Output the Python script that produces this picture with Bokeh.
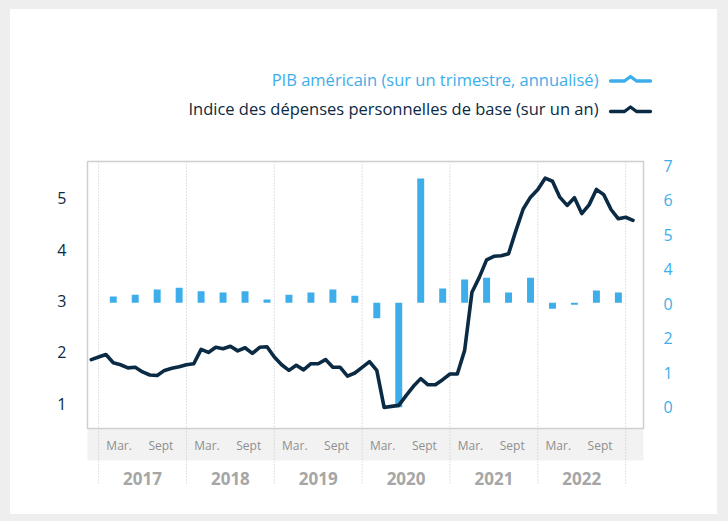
from bokeh.plotting import figure
from bokeh.models import Range1d, LinearAxis, FixedTicker, GlobalInlineStyleSheet
from bokeh.core.properties import value
from bokeh.embed import file_html
from bokeh.resources import INLINE

# ---- data ----
# monthly core PCE index (y/y, %), month 0 = Dec 2016 ... month 74 = Feb 2023
pce_core = [1.86, 1.91, 1.96, 1.80, 1.76, 1.70, 1.71, 1.62, 1.56, 1.55,
            1.65, 1.69, 1.72, 1.76, 1.78, 2.06, 2.00, 2.10, 2.07, 2.12,
            2.03, 2.09, 1.98, 2.10, 2.11, 1.91, 1.76, 1.65, 1.75, 1.66,
            1.78, 1.78, 1.86, 1.71, 1.71, 1.54, 1.60, 1.71, 1.82, 1.65,
            0.93, 0.95, 0.97, 1.16, 1.34, 1.49, 1.37, 1.37, 1.47, 1.58,
            1.58, 2.04, 3.17, 3.46, 3.80, 3.87, 3.88, 3.92, 4.37, 4.79,
            5.02, 5.17, 5.39, 5.33, 5.02, 4.86, 5.01, 4.70, 4.87, 5.17,
            5.07, 4.78, 4.60, 4.63, 4.57]
months = list(range(len(pce_core)))

# quarterly US GDP (annualised q/q, %), Q1 2017 ... Q4 2022, plotted at quarter-end month
gdp_q = [1.7, 2.2, 3.6, 4.1, 3.1, 2.8, 3.1, 0.9, 2.2, 2.8, 3.6, 1.9,
         -4.2, -28.2, 33.6, 3.9, 6.3, 6.8, 2.8, 6.8, -1.6, -0.5, 3.3, 2.8]
quarter_months = [3 + 3 * i for i in range(len(gdp_q))]

years = ["2017", "2018", "2019", "2020", "2021", "2022"]
year_start = [1 + 12 * i for i in range(len(years))]   # January of each year
month_labels = ["Mar.", "Sept"]
month_label_offsets = [2.8, 8.5]

left_ticks = [1, 2, 3, 4, 5]
right_ticks = [0, 1, 2, 3, 4, 5, 6, 7]
right_labels = {0: "0", 1: "1", 2: "2", 3: "0", 4: "4", 5: "5", 6: "6", 7: "7"}

legend_texts = ["PIB américain (sur un trimestre, annualisé)",
                "Indice des dépenses personnelles de base (sur un an)"]

BLUE = "#3DAEEA"
NAVY = "#0B2A44"
FONT = "Open Sans"

p = figure(width=707, height=505, output_backend="svg", toolbar_location=None,
           x_range=Range1d(-1.066, 76.80), y_range=Range1d(-0.842, 7.776),
           x_axis_location=None,
           min_border_left=73, min_border_right=64, min_border_top=46, min_border_bottom=16)
p.margin = (9, 0, 0, 10)
p.styles = {"background-color": "white"}
p.extra_y_ranges = {"right": Range1d(-2.646, 10.194),
                    "gdp": Range1d(-52.89, 66.84),
                    "px": Range1d(498, 55)}
p.extra_x_ranges = {"px": Range1d(83, 653)}
p.grid.visible = False
p.outline_line_color = None
p.background_fill_color = "white"
p.border_fill_color = "white"
p.stylesheets = [GlobalInlineStyleSheet(css="html, body { background: #eeeeee; margin: 0; padding: 0; }")]

# left axis
ya = p.yaxis[0]
ya.ticker = FixedTicker(ticks=left_ticks)
ya.axis_line_color = None
ya.major_tick_line_color = None
ya.minor_tick_line_color = None
ya.major_label_text_font = FONT
ya.major_label_text_font_size = "16px"
ya.major_label_text_color = NAVY
ya.major_label_standoff = 11

# right axis
ra = LinearAxis(y_range_name="right", ticker=FixedTicker(ticks=right_ticks),
                major_label_overrides=right_labels)
ra.axis_line_color = None
ra.major_tick_line_color = None
ra.minor_tick_line_color = None
ra.major_label_text_font = FONT
ra.major_label_text_font_size = "16px"
ra.major_label_text_color = BLUE
ra.major_label_standoff = 4
p.add_layout(ra, "right")

# grey band under the plot area for month labels
p.quad(left=87, right=643, top=428, bottom=460, x_range_name="px", y_range_name="px",
       fill_color="#f2f2f2", line_color=None)

# dotted year dividers
p.segment(x0=year_start + [year_start[-1] + 12], y0=161,
          x1=year_start + [year_start[-1] + 12], y1=483,
          y_range_name="px", line_color="#c4c4c4", line_width=1, line_dash="1 2")

# frame border
p.quad(left=87, right=643, top=161, bottom=428, x_range_name="px", y_range_name="px",
       fill_color=None, line_color="#cfcfcf", line_width=1.5)

# bars (GDP)
p.vbar(x=quarter_months, top=gdp_q, bottom=0, width=0.95, y_range_name="gdp",
       fill_color=BLUE, line_color=None)

# line (core PCE)
p.line(months, pce_core, line_color=NAVY, line_width=3.6, line_join="round", line_cap="round")

# month labels
mx, mt = [], []
for ys in year_start:
    for lab, off in zip(month_labels, month_label_offsets):
        mx.append(ys + off)
        mt.append(lab)
p.text(x=mx, y=[444.5] * len(mx), text=mt, y_range_name="px",
       text_align="center", text_baseline="middle", text_font=value(FONT),
       text_font_size="12px", text_color="#8f8f8f")

# year labels
p.text(x=[ys + 6 for ys in year_start], y=[478] * len(years), text=years, y_range_name="px",
       text_align="center", text_baseline="middle", text_font=value(FONT),
       text_font_size="17px", text_font_style="bold", text_color="#a6a6a6")

# legend
p.text(x=[598, 598], y=[78.5, 107.5], text=legend_texts, x_range_name="px", y_range_name="px",
       text_align="right", text_baseline="middle", text_font=value(FONT),
       text_font_size="16.5px", text_color=[BLUE, NAVY])
for yy, col in [(80.5, BLUE), (111, NAVY)]:
    p.line(x=[610, 624, 630, 636, 650], y=[yy, yy, yy - 4.5, yy, yy],
           x_range_name="px", y_range_name="px", line_color=col, line_width=3.3,
           line_join="round", line_cap="round")

open("out.html", "w").write(file_html(p, INLINE))
